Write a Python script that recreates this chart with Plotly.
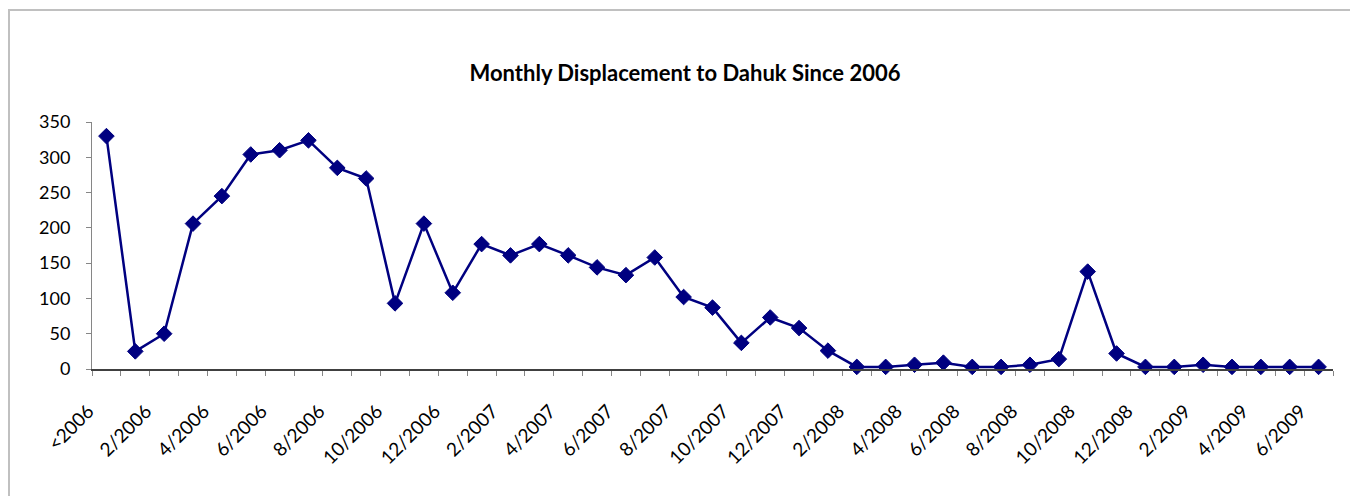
import plotly.graph_objects as go

categories = ["<2006"] + [f"{m}/{y}" for y in (2006, 2007, 2008) for m in range(1, 13)] + [f"{m}/2009" for m in range(1, 7)]
values = [330, 25, 50, 206, 245, 304, 310, 324, 285, 270, 93, 206, 108,
          177, 161, 177, 161, 144, 133, 158, 102, 87, 37, 73, 58, 26,
          3, 3, 6, 9, 3, 3, 6, 14, 138, 22, 3, 3, 6, 3, 3, 3, 3]
tick_text = [c if i % 2 == 0 else "" for i, c in enumerate(categories)]
title_text = "Monthly Displacement to Dahuk Since 2006"

FONT = "Lato"
OFF = 8  # page body margin

W, H = 1358 - OFF, 496 - OFF
L, T = 92 - OFF, 122 - OFF
R = W - (1333 - OFF)
B = H - (369 - OFF)
pw, ph = W - L - R, H - T - B

def px_x(x):
    return (x - OFF - L) / pw

def px_y(y):
    return (H - B - (y - OFF)) / ph

fig = go.Figure()
fig.add_trace(go.Scatter(
    x=categories, y=values, mode="lines+markers",
    line=dict(color="#000080", width=2.5),
    marker=dict(symbol="diamond", size=12, color="#000080",
                line=dict(color="#000080", width=1)),
    showlegend=False, cliponaxis=False,
))

fig.update_layout(
    width=W, height=H,
    margin=dict(l=L, r=R, t=T, b=B),
    paper_bgcolor="white", plot_bgcolor="white",
    font=dict(family=FONT, size=18, color="black"),
    title=dict(text="<b>" + title_text + "</b>", x=(685 - OFF) / W, xanchor="center",
               y=1 - (73.5 - OFF) / H, yanchor="middle", xref="container", yref="container",
               font=dict(family=FONT, size=22, color="black")),
    xaxis=dict(
        type="category", categoryorder="array", categoryarray=categories,
        range=[-0.5, len(categories) - 0.5],
        tickmode="array", tickvals=categories, ticktext=tick_text,
        tickson="boundaries", ticks="outside", ticklen=5, tickcolor="#868686",
        tickangle=-45, showline=True, linecolor="#404040", linewidth=1.5,
        showgrid=False, zeroline=False, ticklabelstandoff=22, ticklabelshift=-18,
        tickfont=dict(family=FONT, size=19, color="black"),
    ),
    yaxis=dict(
        range=[0, 350], dtick=50, tick0=0, ticks="outside", ticklen=5,
        tickcolor="#868686", showline=True, linecolor="#868686", linewidth=1,
        showgrid=False, zeroline=False, ticklabelstandoff=12,
        tickfont=dict(family=FONT, size=18, color="black"),
    ),
    shapes=[
        dict(type="line", xref="paper", yref="paper",
             x0=px_x(8), x1=px_x(1360), y0=px_y(10), y1=px_y(10),
             line=dict(color="#c0c0c0", width=2)),
        dict(type="line", xref="paper", yref="paper",
             x0=px_x(9), x1=px_x(9), y0=px_y(10), y1=px_y(500),
             line=dict(color="#c0c0c0", width=2)),
    ],
)

fig.write_html("out.html")
